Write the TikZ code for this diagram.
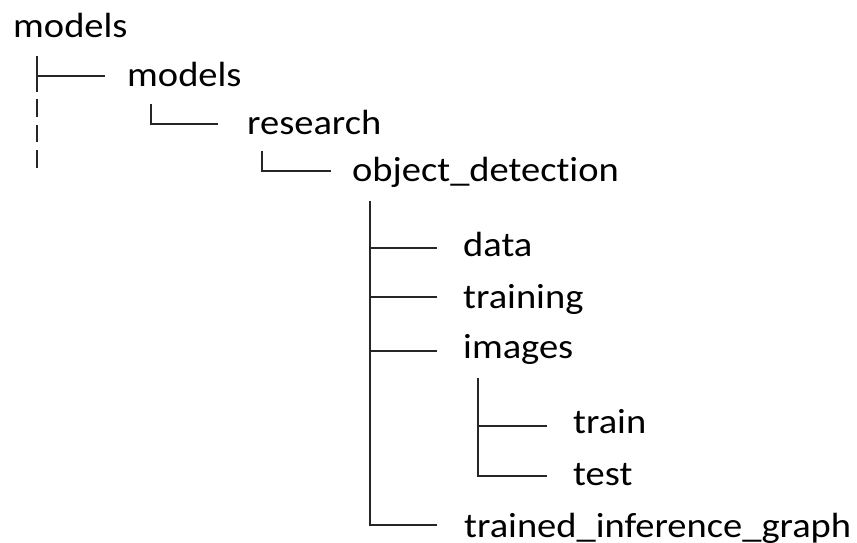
\documentclass[tikz,border=0pt]{standalone}
\usepackage{fontspec}
\setmainfont{Carlito}[FakeStretch=1.1, Ligatures=NoCommon]
\begin{document}
\begin{tikzpicture}[x=1pt,y=-1pt]
\tikzset{
  item/.style={anchor=base west, inner sep=0pt, text=black, font=\fontsize{35}{40}\selectfont},
  tree/.style={line width=2pt, draw=black!85},
  dashtree/.style={tree, dash pattern=on 17.5pt off 8pt}
}
\useasboundingbox (0,0) rectangle (857,542);
% items
\node[item] (root) at (13,37.3) {models};
\node[item] (models) at (127,86) {models};
\node[item] (research) at (247,134) {research};
\node[item] (od) at (352,181.7) {object\_detection};
\node[item] (data) at (463,256) {data};
\node[item] (training) at (463,308) {training};
\node[item] (images) at (463,358) {images};
\node[item] (train) at (573,433) {train};
\node[item] (test) at (573,485) {test};
\node[item] (tig) at (464,537) {trained\_inference\_graph};
% root branch
\coordinate (rTop) at (36.7,56);
\coordinate (rMid) at (36.7,76);
\coordinate (rBot) at (36.7,91.7);
\coordinate (rEnd) at (105,76);
\coordinate (rDashA) at (36.7,99);
\coordinate (rDashB) at (36.7,168);
\draw[tree] (rTop) -- (rBot);
\draw[tree] (rMid) -- (rEnd);
\draw[dashtree] (rDashA) -- (rDashB);
% models -> research
\coordinate (mTop) at (150.7,104.3);
\coordinate (mEnd) at (218,124.3);
\draw[tree] (mTop) |- (mEnd);
% research -> object_detection
\coordinate (rsTop) at (262.3,150.7);
\coordinate (rsEnd) at (330.7,170.7);
\draw[tree] (rsTop) |- (rsEnd);
% object_detection children
\coordinate (odTop) at (370,200.7);
\coordinate (dataEnd) at (437,247.7);
\coordinate (trainingEnd) at (437,297);
\coordinate (imagesEnd) at (437,350.7);
\coordinate (tigEnd) at (437,525);
\draw[tree] (odTop) |- (tigEnd);
\draw[tree] (odTop |- dataEnd) -- (dataEnd);
\draw[tree] (odTop |- trainingEnd) -- (trainingEnd);
\draw[tree] (odTop |- imagesEnd) -- (imagesEnd);
% images children
\coordinate (imTop) at (478,378);
\coordinate (trainEnd) at (547,425.7);
\coordinate (testEnd) at (547,476);
\draw[tree] (imTop) |- (testEnd);
\draw[tree] (imTop |- trainEnd) -- (trainEnd);
\end{tikzpicture}
\end{document}
